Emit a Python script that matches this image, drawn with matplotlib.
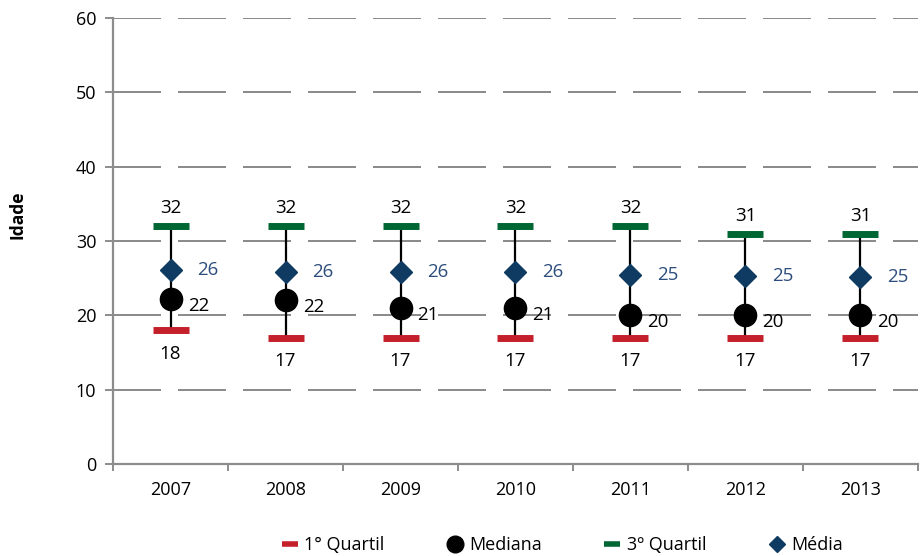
import matplotlib.pyplot as plt
from matplotlib.lines import Line2D
import numpy as np

plt.rcParams['font.family'] = ['Open Sans', 'DejaVu Sans']

# data
anos = ['2007', '2008', '2009', '2010', '2011', '2012', '2013']
q1 = [18, 17, 17, 17, 17, 17, 17]
mediana = [22.2, 22, 21, 21, 20, 20, 20]
q3 = [32, 32, 32, 32, 32, 31, 31]
media = [26.1, 25.8, 25.8, 25.8, 25.4, 25.3, 25.2]

c_q1 = '#C4202B'
c_q3 = '#006633'
c_media = '#0F3B63'
c_media_txt = '#2D4D7C'
c_grid = '#8C8C8C'

fig = plt.figure(figsize=(9.24, 5.56), dpi=100)
ax = fig.add_axes([0.1223, 0.1655, 0.8712, 0.8021])

x = np.arange(len(anos))

# whiskers
ax.vlines(x, q1, q3, color='black', lw=1.6, zorder=2)
ax.plot(x, q1, ls='none', marker='_', ms=26, mew=5, color=c_q1, zorder=3)
ax.plot(x, q3, ls='none', marker='_', ms=26, mew=5, color=c_q3, zorder=3)
ax.plot(x, media, ls='none', marker='D', ms=11, color=c_media, zorder=4)
ax.plot(x, mediana, ls='none', marker='o', ms=16, color='black', zorder=5)

fs = 13.5
for i in range(len(anos)):
    ax.annotate(f'{q3[i]:.0f}', (x[i], q3[i]), xytext=(0, 13), textcoords='offset points',
                ha='center', va='center', fontsize=fs)
    ax.annotate(f'{q1[i]:.0f}', (x[i], q1[i]), xytext=(0, -17), textcoords='offset points',
                ha='center', va='center', fontsize=fs)
    ax.annotate(f'{media[i]:.0f}', (x[i], media[i]), xytext=(27, 0), textcoords='offset points',
                ha='center', va='center', fontsize=fs, color=c_media_txt)
    ax.annotate(f'{mediana[i]:.0f}', (x[i], mediana[i]), xytext=(20, -5), textcoords='offset points',
                ha='center', va='center', fontsize=fs)

ax.set_xlim(-0.5, len(anos) - 0.5)
ax.set_ylim(0, 60)
ax.set_yticks(range(0, 61, 10))
ax.set_xticks(x)
ax.set_xticklabels(anos)
ax.set_xticks(np.arange(-0.5, len(anos)), minor=True)
ax.tick_params(axis='x', which='major', length=0, pad=12, labelsize=13)
ax.tick_params(axis='x', which='minor', length=5, width=1.4, color=c_grid, direction='out')
ax.tick_params(axis='y', length=6, width=1.4, color=c_grid, pad=6, labelsize=13)

ax.yaxis.grid(True, color=c_grid, lw=1.44, linestyle=(0, (24, 8.5)))
ax.set_axisbelow(True)
for s in ['top', 'right']:
    ax.spines[s].set_visible(False)
for s in ['left', 'bottom']:
    ax.spines[s].set_color(c_grid)
    ax.spines[s].set_linewidth(1.6)

fig.text(0.019, 0.613, 'Idade', rotation=90, ha='center', va='center',
         fontsize=12.5, fontweight='bold')

handles = [
    Line2D([], [], ls='none', marker='_', ms=11, mew=4, color=c_q1),
    Line2D([], [], ls='none', marker='o', ms=12, color='black'),
    Line2D([], [], ls='none', marker='_', ms=11, mew=4, color=c_q3),
    Line2D([], [], ls='none', marker='D', ms=8, color=c_media),
]
labels = ['1° Quartil', 'Mediana', '3º Quartil', 'Média']
fig.legend(handles, labels, loc='center', bbox_to_anchor=(0.608, 0.02), ncol=4,
           frameon=False, fontsize=13, handlelength=1.0, handletextpad=0.3,
           columnspacing=3.4, borderaxespad=0)

fig.savefig('out.png', dpi=100)
